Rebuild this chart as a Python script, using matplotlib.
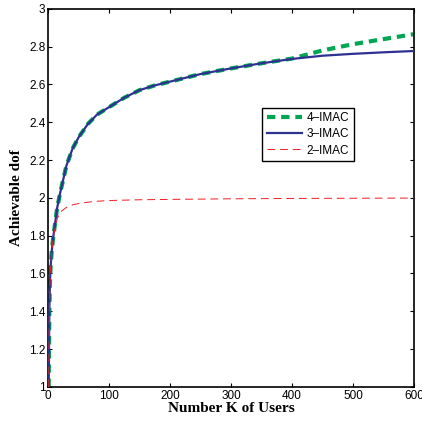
import matplotlib
matplotlib.use("Agg")
import matplotlib.pyplot as plt

# Data
K_3 = [1, 2, 3, 4, 6, 8, 10, 15, 20, 30, 40, 50, 65, 80, 100, 125, 150, 175,
       200, 250, 300, 350, 400, 450, 500, 550, 600]
dof_3 = [1.0, 1.4, 1.55, 1.63, 1.72, 1.78, 1.83, 1.95, 2.03, 2.17, 2.26, 2.32,
         2.39, 2.44, 2.48, 2.53, 2.57, 2.595, 2.615, 2.655, 2.685, 2.712,
         2.735, 2.752, 2.762, 2.770, 2.777]

K_4 = [1, 2, 3, 4, 6, 8, 10, 15, 20, 30, 40, 50, 65, 80, 100, 125, 150, 175,
       200, 250, 300, 350, 400, 450, 500, 550, 600]
dof_4 = [1.0, 1.4, 1.55, 1.63, 1.72, 1.78, 1.83, 1.95, 2.03, 2.17, 2.26, 2.32,
         2.39, 2.44, 2.48, 2.53, 2.57, 2.595, 2.615, 2.655, 2.685, 2.712,
         2.737, 2.78, 2.813, 2.84, 2.866]

K_2 = [1, 2, 3, 4, 6, 8, 10, 15, 20, 30, 40, 50, 65, 80, 100, 150, 200, 300,
       400, 500, 600]
dof_2 = [1.0, 1.4, 1.55, 1.63, 1.72, 1.78, 1.82, 1.89, 1.925, 1.95, 1.963,
         1.97, 1.977, 1.982, 1.986, 1.99, 1.992, 1.995, 1.997, 1.998, 1.999]

labels = ["4–IMAC", "3–IMAC", "2–IMAC"]
xticks = [0, 100, 200, 300, 400, 500, 600]
yticks = [1, 1.2, 1.4, 1.6, 1.8, 2, 2.2, 2.4, 2.6, 2.8, 3]
ytick_labels = ["1", "1.2", "1.4", "1.6", "1.8", "2", "2.2", "2.4", "2.6", "2.8", "3"]

fig = plt.figure(figsize=(4.22, 4.21), dpi=100)
ax = fig.add_axes([0.114, 0.081, 0.867, 0.898])

ax.plot(K_4, dof_4, color="#00a651", lw=3.0, ls=(0, (2.0, 1.4)), label=labels[0], zorder=2)
ax.plot(K_3, dof_3, color="#2e3192", lw=1.6, ls="-", label=labels[1], zorder=3)
ax.plot(K_2, dof_2, color="#ed1c24", lw=0.7, ls=(0, (8, 5)), label=labels[2], zorder=4)

ax.set_xlim(0, 600)
ax.set_ylim(1, 3)
ax.set_xticks(xticks)
ax.set_yticks(yticks)
ax.set_xticklabels([str(v) for v in xticks])
ax.set_yticklabels(ytick_labels)
ax.tick_params(direction="in", top=True, right=True, length=3, width=0.8,
               labelsize=8.5, pad=2)
for lbl in ax.get_xticklabels() + ax.get_yticklabels():
    lbl.set_family("Liberation Sans")
for s in ax.spines.values():
    s.set_linewidth(1.2)

ax.set_xlabel("Number K of Users", family="Liberation Serif", fontweight="bold",
              fontsize=11, labelpad=0)
ax.set_ylabel("Achievable dof", family="Liberation Serif", fontweight="bold",
              fontsize=11, labelpad=4)

leg = ax.legend(loc="upper left", bbox_to_anchor=(0.584, 0.739), fontsize=8.5,
                frameon=True, fancybox=False, edgecolor="black", framealpha=1,
                handlelength=3.0, borderpad=0.4, labelspacing=0.35,
                handletextpad=0.4, borderaxespad=0)
leg.get_frame().set_linewidth(1.0)
for t in leg.get_texts():
    t.set_family("Liberation Sans")

fig.savefig("out.png", dpi=100)
